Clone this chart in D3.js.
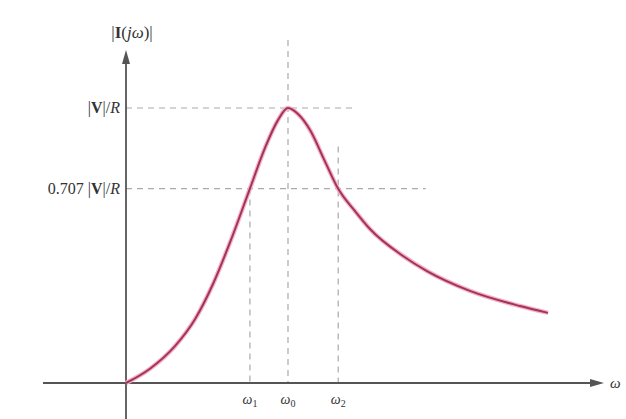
<!DOCTYPE html>
<html>
<head>
<meta charset="utf-8">
<script src="https://cdn.jsdelivr.net/npm/d3@7"></script>
<style>
  body { margin: 0; background: #fff; }
  svg text { font-family: "Liberation Serif", "DejaVu Serif", serif; fill: #333; }
</style>
</head>
<body>
<svg id="chart" width="626" height="419"></svg>
<script>
// normalized frequency (ω/ω0) and current (|I|/(|V|/R))
const omega = [0, 0.148, 0.302, 0.426, 0.537, 0.642, 0.765, 0.858, 0.938, 1,
               1.062, 1.136, 1.228, 1.309, 1.414, 1.506, 1.71, 1.858, 2.123, 2.432, 2.605];
const current = [0, 0.052, 0.134, 0.232, 0.36, 0.511, 0.707, 0.855, 0.956, 1,
                 0.978, 0.92, 0.806, 0.707, 0.625, 0.56, 0.462, 0.407, 0.335, 0.28, 0.255];
const marks = [{ w: 0.765, sub: "1", top: 0.707 }, { w: 1, sub: "0", top: null }, { w: 1.31, sub: "2", top: 0.86 }];
const levels = [{ v: 1, end: 1.41 }, { v: 0.707, end: 1.85 }];

const svg = d3.select("#chart");
const x = d3.scaleLinear().domain([0, 1]).range([126, 288]);
const y = d3.scaleLinear().domain([0, 1]).range([383, 108]);

// dashed guides
levels.forEach(l => {
  svg.append("line")
    .attr("x1", x(0)).attr("x2", x(l.end))
    .attr("y1", y(l.v)).attr("y2", y(l.v))
    .attr("stroke", "#aaa").attr("stroke-width", 1.2)
    .attr("stroke-dasharray", "6,5");
});
marks.forEach(m => {
  svg.append("line")
    .attr("x1", x(m.w)).attr("x2", x(m.w))
    .attr("y1", m.top === null ? 40 : y(m.top)).attr("y2", y(0))
    .attr("stroke", "#aaa").attr("stroke-width", 1.2)
    .attr("stroke-dasharray", "6,5");
});

// axes
const axisColor = "#555";
svg.append("line").attr("x1", 43).attr("x2", 596).attr("y1", y(0)).attr("y2", y(0))
  .attr("stroke", axisColor).attr("stroke-width", 1.8);
svg.append("line").attr("x1", x(0)).attr("x2", x(0)).attr("y1", 58).attr("y2", 419)
  .attr("stroke", axisColor).attr("stroke-width", 1.8);
svg.append("path").attr("d", `M${x(0)},50 L${x(0) - 4},64 L${x(0) + 4},64 Z`).attr("fill", axisColor);
svg.append("path").attr("d", `M604,${y(0)} L590,${y(0) - 4} L590,${y(0) + 4} Z`).attr("fill", axisColor);

// curve
const pts = omega.map((w, i) => [w, current[i]]);
const line = d3.line().x(d => x(d[0])).y(d => y(d[1])).curve(d3.curveMonotoneX);
svg.append("path").datum(pts).attr("d", line)
  .attr("fill", "none").attr("stroke", "#f3b3c6").attr("stroke-width", 4.5);
svg.append("path").datum(pts).attr("d", line)
  .attr("fill", "none").attr("stroke", "#a3335a").attr("stroke-width", 2);

// labels
const yl = svg.append("text").attr("x", 132).attr("y", 38).attr("text-anchor", "middle").attr("font-size", 17);
yl.append("tspan").text("|");
yl.append("tspan").attr("font-weight", "bold").text("I");
yl.append("tspan").text("(");
yl.append("tspan").attr("font-style", "italic").text("jω");
yl.append("tspan").text(")|");

levels.forEach(l => {
  const t = svg.append("text").attr("x", 120).attr("y", y(l.v) + 5)
    .attr("text-anchor", "end").attr("font-size", 16);
  if (l.v !== 1) t.append("tspan").text("0.707 ");
  t.append("tspan").text("|");
  t.append("tspan").attr("font-weight", "bold").text("V");
  t.append("tspan").text("|/");
  t.append("tspan").attr("font-style", "italic").text("R");
});

marks.forEach(m => {
  const t = svg.append("text").attr("x", x(m.w)).attr("y", 404)
    .attr("text-anchor", "middle").attr("font-size", 14).attr("font-style", "italic");
  t.append("tspan").text("ω");
  t.append("tspan").attr("dy", 3).attr("font-size", 10).attr("font-style", "normal").text(m.sub);
});
svg.append("text").attr("x", 610).attr("y", y(0) + 5).attr("font-size", 15)
  .attr("font-style", "italic").text("ω");
</script>
</body>
</html>
